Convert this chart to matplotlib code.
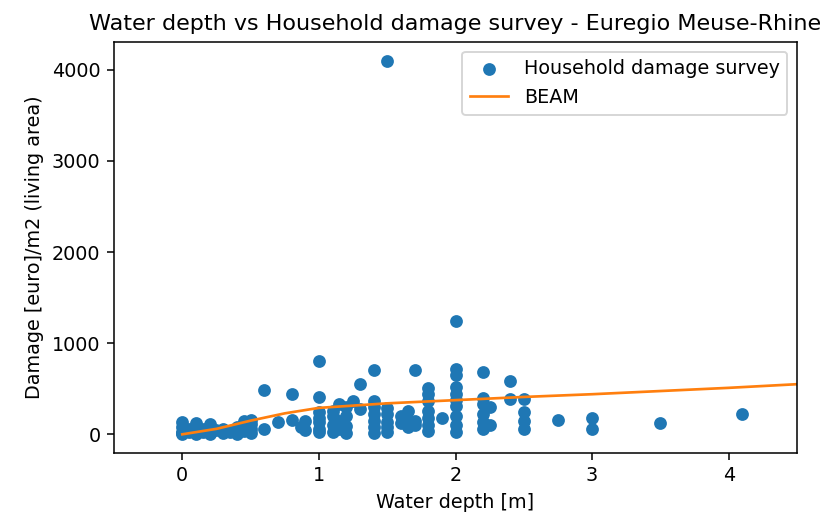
import numpy as np
import matplotlib
matplotlib.use('Agg')
import matplotlib.pyplot as plt

# ── survey data: water depth [m] vs damage [euro/m2] ────────────────────────
depth = [
    0, 0, 0, 0, 0,
    0.05, 0.05,
    0.1, 0.1, 0.1,
    0.15, 0.15,
    0.2, 0.2, 0.2,
    0.25,
    0.3, 0.3,
    0.35,
    0.4, 0.4, 0.4,
    0.45, 0.45,
    0.5, 0.5, 0.5, 0.5,
    0.6, 0.6,
    0.7,
    0.8, 0.8,
    0.87,
    0.9, 0.9,
    1.0, 1.0, 1.0, 1.0, 1.0, 1.0, 1.0,
    1.1, 1.1, 1.1, 1.1,
    1.15, 1.15, 1.15,
    1.2, 1.2, 1.2, 1.2,
    1.25,
    1.3, 1.3,
    1.4, 1.4, 1.4, 1.4, 1.4, 1.4, 1.4,
    1.5, 1.5, 1.5, 1.5, 1.5, 1.5,
    1.6, 1.6,
    1.65, 1.65, 1.65,
    1.7, 1.7, 1.7,
    1.8, 1.8, 1.8, 1.8, 1.8, 1.8, 1.8,
    1.9,
    2.0, 2.0, 2.0, 2.0, 2.0, 2.0, 2.0, 2.0, 2.0, 2.0,
    2.2, 2.2, 2.2, 2.2, 2.2, 2.2,
    2.25, 2.25,
    2.4, 2.4,
    2.5, 2.5, 2.5, 2.5,
    2.75,
    3.0, 3.0,
    3.5,
    4.1,
]
damage = [
    130, 80, 30, 0, 10,
    60, 20,
    120, 40, 0,
    20, 60,
    110, 30, 0,
    50,
    60, 10,
    30,
    80, 20, 0,
    150, 40,
    160, 110, 60, 10,
    490, 60,
    130,
    440, 160,
    80,
    150, 50,
    810, 410, 250, 180, 130, 60, 20,
    260, 200, 100, 30,
    330, 150, 60,
    300, 200, 90, 10,
    370,
    550, 280,
    710, 370, 300, 220, 150, 80, 10,
    4100, 290, 220, 140, 80, 30,
    200, 120,
    260, 80, 160,
    710, 150, 100,
    510, 440, 370, 260, 180, 100, 40,
    180,
    1240, 720, 650, 520, 440, 380, 310, 200, 100, 30,
    680, 400, 330, 220, 130, 60,
    300, 100,
    590, 390,
    390, 240, 150, 60,
    160,
    180, 60,
    120,
    220,
]

# ── BEAM depth-damage curve ─────────────────────────────────────────────────
beam_depth  = [0, 0.25, 0.5, 0.75, 1.0, 1.5, 2.0, 2.5, 3.0, 3.5, 4.0, 4.5, 5.0]
beam_damage = [0, 60, 150, 230, 290, 340, 375, 410, 440, 475, 510, 550, 590]

DPI = 138.24   # ~1.92 px per point, as in the screenshot
fig = plt.figure(figsize=(829 / DPI, 513 / DPI), dpi=DPI)
ax = fig.add_axes([114 / 829, 60 / 513, (797 - 114) / 829, (453 - 42) / 513])

ax.scatter(depth, damage, s=32, label='Household damage survey')
ax.plot(beam_depth, beam_damage, color='C1', lw=1.4, label='BEAM')

ax.set_xlim(-0.5, 4.5)
ax.set_title('Water depth vs Household damage survey - Euregio Meuse-Rhine',
             fontsize=11.6)
ax.set_xlabel('Water depth [m]')
ax.set_ylabel('Damage [euro]/m2 (living area)')
ax.legend()

fig.savefig('out.png', dpi=DPI)
